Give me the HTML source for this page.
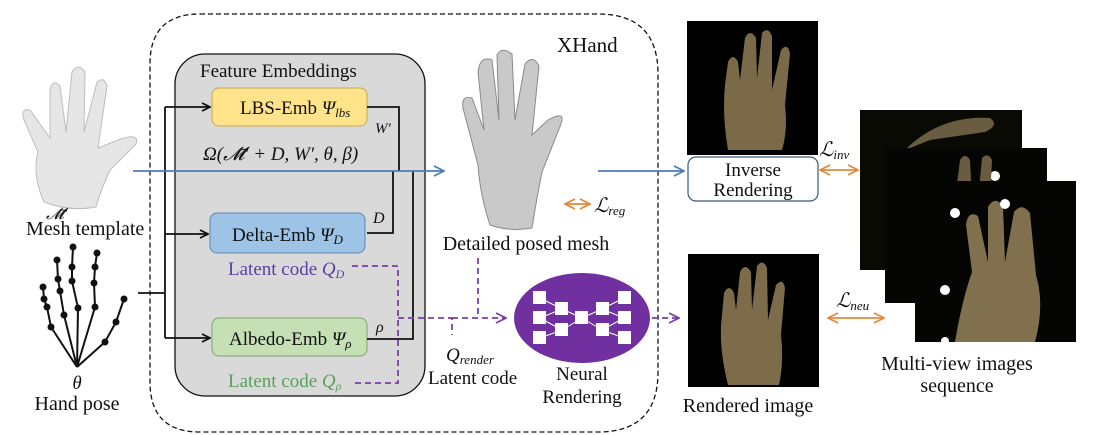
<!DOCTYPE html>
<html><head><meta charset="utf-8"><style>
html,body{margin:0;padding:0;background:#fff;}
svg{display:block;}
text{font-family:"Liberation Serif",serif;fill:#111;}
.it{font-style:italic;}
</style></head><body>
<svg width="1099" height="435" viewBox="0 0 1099 435" xmlns="http://www.w3.org/2000/svg">
<defs>
<marker id="ab" markerWidth="10" markerHeight="10" refX="9" refY="5" orient="auto" markerUnits="userSpaceOnUse"><path d="M1,1 L9,5 L1,9" fill="none" stroke="#111" stroke-width="1.8"/></marker>
<marker id="abl" markerWidth="12" markerHeight="12" refX="11" refY="6" orient="auto" markerUnits="userSpaceOnUse"><path d="M1,1 L11,6 L1,11" fill="none" stroke="#4a7ebb" stroke-width="1.8"/></marker>
<marker id="ap" markerWidth="12" markerHeight="12" refX="11" refY="6" orient="auto" markerUnits="userSpaceOnUse"><path d="M1,1 L11,6 L1,11" fill="none" stroke="#7a3fa8" stroke-width="1.8"/></marker>
<marker id="ao" markerWidth="12" markerHeight="12" refX="11" refY="6" orient="auto-start-reverse" markerUnits="userSpaceOnUse"><path d="M1,1 L11,6 L1,11" fill="none" stroke="#e08a3c" stroke-width="1.8"/></marker>
</defs>

<!-- XHand dashed -->
<path d="M200,14 L598,14 Q658,14 658,74 L658,372 Q658,432 598,432 L200,432 Q150,432 150,382 L150,64 Q150,14 200,14 Z" fill="none" stroke="#111" stroke-width="1.3" stroke-dasharray="5,3"/>
<text x="557" y="52" font-size="21">XHand</text>

<!-- gray box -->
<rect x="175" y="54" width="250" height="342" rx="30" fill="#d9d9d9" stroke="#111" stroke-width="1.3"/>
<text x="200" y="77" font-size="19">Feature Embeddings</text>

<rect x="212" y="88" width="155" height="38" rx="7" fill="#ffe38a" stroke="#c8a84a" stroke-width="1"/>
<text x="240" y="114" font-size="19">LBS-Emb <tspan class="it">Ψ</tspan><tspan class="it" font-size="13" dy="3">lbs</tspan></text>
<rect x="210" y="213" width="155" height="40" rx="7" fill="#9dc3e6" stroke="#5f85ad" stroke-width="1"/>
<text x="232" y="241" font-size="19">Delta-Emb <tspan class="it">Ψ</tspan><tspan class="it" font-size="13" dy="3">D</tspan></text>
<rect x="212" y="318" width="155" height="38" rx="7" fill="#c5e0b4" stroke="#7ea36a" stroke-width="1"/>
<text x="229" y="345" font-size="19">Albedo-Emb <tspan class="it">Ψ</tspan><tspan class="it" font-size="13" dy="3">ρ</tspan></text>

<!-- left inputs -->
<path d="M138,293 L165,293 M165,107 L165,338" stroke="#111" stroke-width="1.8" fill="none"/>
<path d="M165,107 L210,107" stroke="#111" stroke-width="1.8" marker-end="url(#ab)"/>
<path d="M165,234 L208,234" stroke="#111" stroke-width="1.8" marker-end="url(#ab)"/>
<path d="M165,338 L210,338" stroke="#111" stroke-width="1.8" marker-end="url(#ab)"/>

<!-- outputs -->
<path d="M367,107 L399,107 L399,171" stroke="#111" stroke-width="1.8" fill="none"/>
<path d="M367,233 L393,233 L393,171" stroke="#111" stroke-width="1.8" fill="none"/>
<path d="M367,339 L413,339 L413,171" stroke="#111" stroke-width="1.8" fill="none"/>
<text x="375" y="133" font-size="15" class="it">W′</text>
<text x="373" y="223" font-size="16" class="it">D</text>
<text x="376" y="332" font-size="16" class="it">ρ</text>
<text x="203" y="160" font-size="19" class="it">Ω(𝓜̄′ + D, W′, θ, β)</text>

<!-- blue main -->
<path d="M133,171 L444,171" stroke="#4a7ebb" stroke-width="1.8" marker-end="url(#abl)"/>
<path d="M598,171 L684,171" stroke="#4a7ebb" stroke-width="1.8" marker-end="url(#abl)"/>

<!-- purple dashed -->
<g stroke="#7a3fa8" stroke-width="1.8" fill="none" stroke-dasharray="6,4">
<path d="M352,266 L398,266 L398,383 L355,383"/>
<path d="M398,318 L452,318 L452,335"/>
<path d="M478,258 L478,318"/>
</g>
<path d="M452,318 L506,318" stroke="#7a3fa8" stroke-width="1.8" stroke-dasharray="6,4" marker-end="url(#ap)"/>
<path d="M652,318 L679,318" stroke="#7a3fa8" stroke-width="1.8" stroke-dasharray="6,4" marker-end="url(#ap)"/>
<text x="228" y="275" font-size="19" style="fill:#5b3fa0">Latent code <tspan class="it">Q</tspan><tspan class="it" font-size="12" dy="3">D</tspan></text>
<text x="228" y="387" font-size="19" style="fill:#5aa05a">Latent code <tspan class="it">Q</tspan><tspan class="it" font-size="12" dy="3">ρ</tspan></text>
<text x="446" y="361" font-size="19" class="it">Q<tspan font-size="13" dy="3">render</tspan></text>
<text x="428" y="384" font-size="19">Latent code</text>

<!-- neural ellipse -->
<ellipse cx="582" cy="318" rx="68" ry="45" fill="#7030a0"/>
<g stroke="#fff" stroke-width="1">
<path d="M540,298 L562,309 M540,318 L562,309 M540,318 L562,330 M540,338 L562,330 M562,309 L582,318 M562,330 L582,318 M582,318 L602,309 M582,318 L602,330 M602,309 L624,298 M602,309 L624,318 M602,330 L624,318 M602,330 L624,338"/>
</g>
<g fill="#fff">
<rect x="533" y="291" width="13" height="13"/><rect x="533" y="311" width="13" height="13"/><rect x="533" y="331" width="13" height="13"/>
<rect x="555" y="302" width="13" height="13"/><rect x="555" y="323" width="13" height="13"/>
<rect x="575" y="311" width="13" height="13"/>
<rect x="596" y="302" width="13" height="13"/><rect x="596" y="323" width="13" height="13"/>
<rect x="618" y="291" width="13" height="13"/><rect x="618" y="311" width="13" height="13"/><rect x="618" y="331" width="13" height="13"/>
</g>
<text x="582" y="380" font-size="19" text-anchor="middle">Neural</text>
<text x="582" y="403" font-size="19" text-anchor="middle">Rendering</text>

<!-- left mesh hand -->
<path d="M44,202 Q32,175 38,152 L24,120 Q20,108 30,110 L50,138 L50,90 Q53,78 60,86 L66,132 L72,72 Q78,62 85,72 L84,132 L97,82 Q104,76 107,86 L98,148 L118,140 Q140,132 136,144 L110,170 Q100,192 96,207 Q70,212 44,202 Z" fill="#e6e6e6" stroke="#bdbdbd" stroke-width="1"/>
<text x="46" y="219" font-size="16" class="it">𝓜̄′</text>
<text x="26" y="235" font-size="20">Mesh template</text>

<!-- skeleton -->
<g stroke="#111" stroke-width="2" fill="none">
<path d="M77,367 L105,342 L116,322 L124,299"/>
<path d="M77,367 L95,307 L94,283 L95,267 L97,253"/>
<path d="M77,367 L78,308 L72,281 L72,267 L73,247"/>
<path d="M77,367 L64,315 L60,291 L58,279 L57,260"/>
<path d="M77,367 L51,327 L47,307 L44,299 L43,287"/>
</g>
<g fill="#111">
<circle cx="105" cy="342" r="3.5"/><circle cx="116" cy="322" r="3.5"/><circle cx="124" cy="299" r="3.5"/>
<circle cx="95" cy="307" r="3.5"/><circle cx="94" cy="283" r="3.5"/><circle cx="95" cy="267" r="3.5"/><circle cx="97" cy="253" r="3.5"/>
<circle cx="78" cy="308" r="3.5"/><circle cx="72" cy="281" r="3.5"/><circle cx="72" cy="267" r="3.5"/><circle cx="73" cy="247" r="3.5"/>
<circle cx="64" cy="315" r="3.5"/><circle cx="60" cy="291" r="3.5"/><circle cx="58" cy="279" r="3.5"/><circle cx="57" cy="260" r="3.5"/>
<circle cx="51" cy="327" r="3.5"/><circle cx="47" cy="307" r="3.5"/><circle cx="44" cy="299" r="3.5"/><circle cx="43" cy="287" r="3.5"/>
</g>
<text x="77" y="389" font-size="19" class="it" text-anchor="middle">θ</text>
<text x="77" y="410" font-size="20" text-anchor="middle">Hand pose</text>

<!-- detailed mesh hand -->
<path d="M490,225 Q480,195 478,165 L463,108 Q461,95 472,98 L484,130 L478,72 Q480,55 492,60 L499,120 L497,55 Q502,46 512,54 L515,120 L525,64 Q533,54 539,66 L532,135 L548,120 Q566,110 561,124 L542,172 Q536,202 532,228 Q510,232 490,225 Z" fill="#c9c9c9" stroke="#8a8a8a" stroke-width="1"/>
<text x="526" y="250" font-size="20" text-anchor="middle">Detailed posed mesh</text>
<path d="M565,204 L590,204" stroke="#e08a3c" stroke-width="1.8" marker-start="url(#ao)" marker-end="url(#ao)"/>
<text x="594" y="212" font-size="20" class="it">ℒ<tspan font-size="13" dy="3">reg</tspan></text>

<!-- top rendered image -->
<rect x="687" y="21" width="131" height="134" fill="#000"/>
<path d="M728,150 Q722,115 725,85 L728,62 Q733,52 738,62 L740,80 L745,38 Q750,28 756,38 L757,78 L762,33 Q768,26 772,36 L772,90 L781,50 Q788,42 790,54 L785,105 Q788,130 782,150 Z" fill="#7a6a48"/>
<rect x="688" y="157" width="130" height="44" rx="8" fill="#fff" stroke="#3a5a7a" stroke-width="1.2"/>
<text x="753" y="176" font-size="19" text-anchor="middle">Inverse</text>
<text x="753" y="196" font-size="19" text-anchor="middle">Rendering</text>

<!-- rendered image bottom -->
<rect x="688" y="254" width="131" height="133" fill="#000"/>
<path d="M728,385 Q718,345 722,315 L724,293 Q729,283 734,293 L736,310 L740,272 Q745,262 751,272 L752,310 L757,266 Q763,258 767,268 L768,320 L776,285 Q783,277 785,288 L781,335 Q784,362 779,385 Z" fill="#7d6c4a"/>
<text x="748" y="412" font-size="20" text-anchor="middle">Rendered image</text>

<!-- multi-view -->
<rect x="860" y="110" width="162" height="160" fill="#0a0a05"/>
<path d="M905,150 Q940,115 990,118 Q1000,125 985,132 L930,140 Z" fill="#6a5c40"/>
<rect x="885" y="148" width="162" height="155" fill="#050503"/>
<circle cx="995" cy="176" r="5" fill="#fff"/>
<path d="M955,200 L960,160 Q965,152 970,160 L972,200 Z M978,200 L982,158 Q988,152 992,160 L990,200 Z" fill="#6a5c40"/>
<rect x="915" y="181" width="161" height="161" fill="#050503"/>
<path d="M955,342 Q962,300 972,272 L966,225 Q968,210 978,216 L988,262 L988,207 Q995,195 1003,206 L1005,262 L1014,212 Q1022,202 1030,213 L1036,275 Q1045,305 1035,342 Z" fill="#80704e"/>
<circle cx="955" cy="213" r="5" fill="#fff"/><circle cx="1005" cy="204" r="5" fill="#fff"/><circle cx="945" cy="290" r="5" fill="#fff"/><circle cx="945" cy="341" r="4" fill="#fff"/>
<text x="957" y="370" font-size="20" text-anchor="middle">Multi-view images</text>
<text x="957" y="392" font-size="20" text-anchor="middle">sequence</text>

<path d="M820,170 L858,170" stroke="#e08a3c" stroke-width="1.8" marker-start="url(#ao)" marker-end="url(#ao)"/>
<text x="819" y="156" font-size="20" class="it">ℒ<tspan font-size="13" dy="3">inv</tspan></text>
<path d="M828,318 L884,318" stroke="#e08a3c" stroke-width="1.8" marker-start="url(#ao)" marker-end="url(#ao)"/>
<text x="836" y="307" font-size="20" class="it">ℒ<tspan font-size="13" dy="3">neu</tspan></text>
</svg>
</body></html>
